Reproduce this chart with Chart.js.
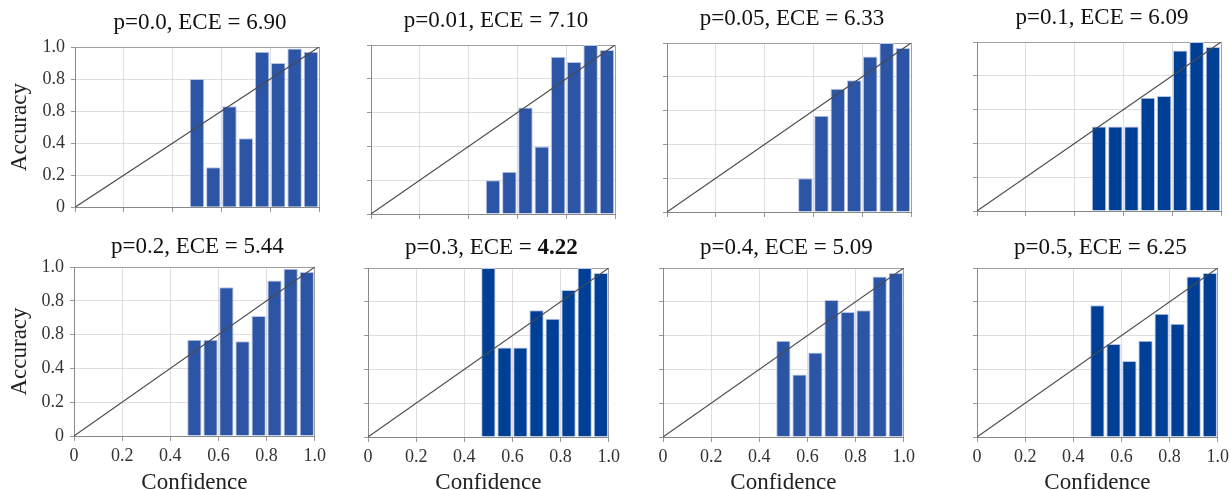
<!DOCTYPE html>
<html>
<head>
<meta charset="utf-8">
<script src="https://cdn.jsdelivr.net/npm/chart.js@4.4.0/dist/chart.umd.min.js"></script>
<style>
  html, body { margin: 0; padding: 0; background: #fff; }
  body { width: 1231px; height: 490px; overflow: hidden; position: relative; }
  .panel { position: absolute; }
</style>
</head>
<body>
<div id="wrap"></div>
<script>
// bin centres (15 equal bins, only the upper 8 are populated)
const BIN_CENTERS = [0.5, 0.567, 0.633, 0.7, 0.767, 0.833, 0.9, 0.967];

const P_VALUES = ['0.0', '0.01', '0.05', '0.1', '0.2', '0.3', '0.4', '0.5'];
const ECE_VALUES = ['6.90', '7.10', '6.33', '6.09', '5.44', '4.22', '5.09', '6.25'];
const BEST_PANEL = 5;

const ACC_P000 = [0.80, 0.25, 0.63, 0.43, 0.97, 0.90, 0.99, 0.97];
const ACC_P001 = [0.20, 0.25, 0.63, 0.40, 0.93, 0.90, 1.00, 0.97];
const ACC_P005 = [null, 0.20, 0.57, 0.73, 0.78, 0.92, 1.00, 0.97];
const ACC_P010 = [0.50, 0.50, 0.50, 0.67, 0.68, 0.95, 1.00, 0.97];
const ACC_P020 = [0.57, 0.57, 0.88, 0.56, 0.71, 0.92, 0.99, 0.97];
const ACC_P030 = [1.00, 0.53, 0.53, 0.75, 0.70, 0.87, 1.00, 0.97];
const ACC_P040 = [0.57, 0.37, 0.50, 0.81, 0.74, 0.75, 0.95, 0.97];
const ACC_P050 = [0.78, 0.55, 0.45, 0.57, 0.73, 0.67, 0.95, 0.97];
const ACCURACY = [ACC_P000, ACC_P001, ACC_P005, ACC_P010, ACC_P020, ACC_P030, ACC_P040, ACC_P050];

// the source figure labels the 0.6 tick as "0.8"
const Y_TICK_LABELS = ['0', '0.2', '0.4', '0.8', '0.8', '1.0'];
const X_TICK_LABELS = ['0', '0.2', '0.4', '0.6', '0.8', '1.0'];

const LIGHT_BLUE = '#2d55a5';
const DARK_BLUE = '#003f96';
const BAR_COLORS = [LIGHT_BLUE, LIGHT_BLUE, LIGHT_BLUE, DARK_BLUE, LIGHT_BLUE, DARK_BLUE, LIGHT_BLUE, DARK_BLUE];

const PLOT_BOXES = [[75, 47], [371, 45], [667, 43], [977, 42], [74, 267], [368, 268], [663, 268], [977, 268]];
const PLOT_W = 244;
const PLOT_H = 169;
const TOP_SPACE = 40;
const RIGHT_SPACE = 12;

const SERIF = "'Liberation Serif', 'Times New Roman', serif";

const panelTitle = {
    id: 'panelTitle',
    afterDraw(chart, args, opts) {
        const { ctx, chartArea } = chart;
        ctx.save();
        ctx.fillStyle = '#111';
        ctx.textBaseline = 'alphabetic';
        ctx.textAlign = 'left';
        let total = 0;
        opts.parts.forEach(p => {
            ctx.font = (p.bold ? 'bold ' : '') + '23px ' + SERIF;
            p.w = ctx.measureText(p.text).width;
            total += p.w;
        });
        let x = (chartArea.left + chartArea.right) / 2 - total / 2 + 3;
        const y = chartArea.top - opts.lift;
        opts.parts.forEach(p => {
            ctx.font = (p.bold ? 'bold ' : '') + '23px ' + SERIF;
            ctx.fillText(p.text, x, y);
            x += p.w;
        });
        ctx.restore();
    }
};

function gridColor(ctx) {
    if (ctx.tick && Math.abs(ctx.tick.value - 1) < 1e-6) return '#a0a0a0';
    return 'rgba(205, 205, 205, 0.65)';
}

function makePanel(i) {
    const col = i % 4;
    const row = Math.floor(i / 4);
    const [px, py] = PLOT_BOXES[i];
    const leftSpace = col === 0 ? px : 10;
    const bottomEdge = row === 0 ? py + PLOT_H + 8 : 497;
    const bottomSpace = bottomEdge - (py + PLOT_H);

    const div = document.createElement('div');
    div.className = 'panel';
    div.style.left = (px - leftSpace) + 'px';
    div.style.top = (py - TOP_SPACE) + 'px';
    div.style.width = (leftSpace + PLOT_W + RIGHT_SPACE) + 'px';
    div.style.height = (TOP_SPACE + PLOT_H + bottomSpace) + 'px';
    const canvas = document.createElement('canvas');
    div.appendChild(canvas);
    document.getElementById('wrap').appendChild(div);

    const parts = i === BEST_PANEL
        ? [{ text: 'p=' + P_VALUES[i] + ', ECE = ', bold: false }, { text: ECE_VALUES[i], bold: true }]
        : [{ text: 'p=' + P_VALUES[i] + ', ECE = ' + ECE_VALUES[i], bold: false }];

    const barData = BIN_CENTERS.map((c, k) => ({ x: c, y: ACCURACY[i][k] }));

    new Chart(canvas, {
        type: 'bar',
        data: {
            datasets: [
                {
                    type: 'line',
                    data: [{ x: 0, y: 0 }, { x: 1, y: 1 }],
                    borderColor: '#4a4a4a',
                    borderWidth: 1.1,
                    pointRadius: 0,
                    order: 0
                },
                {
                    type: 'bar',
                    data: barData,
                    backgroundColor: BAR_COLORS[i],
                    borderColor: 'rgba(185, 198, 235, 1)',
                    borderWidth: 1,
                    barPercentage: 0.9,
                    categoryPercentage: 1,
                    order: 1
                }
            ]
        },
        options: {
            responsive: true,
            maintainAspectRatio: false,
            animation: false,
            layout: { padding: { top: TOP_SPACE, right: RIGHT_SPACE, left: 0, bottom: 0 } },
            plugins: {
                legend: { display: false },
                tooltip: { enabled: false },
                panelTitle: { parts: parts, lift: row === 0 ? 18 : 14 }
            },
            scales: {
                x: {
                    type: 'linear',
                    min: 0,
                    max: 1,
                    offset: false,
                    z: 1,
                    afterFit: (scale) => { scale.height = bottomSpace; },
                    grid: { offset: false, color: gridColor, tickLength: 5, tickColor: '#999' },
                    border: { color: '#888' },
                    ticks: {
                        display: row === 1,
                        stepSize: 0.2,
                        padding: 4,
                        color: '#333',
                        font: { family: SERIF, size: 18 },
                        maxRotation: 0,
                        callback: (v, idx) => X_TICK_LABELS[idx]
                    },
                    title: {
                        display: row === 1,
                        text: 'Confidence',
                        color: '#222',
                        padding: 0,
                        font: { family: SERIF, size: 23, lineHeight: 1.2 }
                    }
                },
                y: {
                    min: 0,
                    max: 1,
                    z: 1,
                    afterFit: (scale) => { scale.width = leftSpace; },
                    grid: { color: gridColor, tickLength: 4, tickColor: '#999' },
                    border: { color: '#888' },
                    ticks: {
                        display: col === 0,
                        stepSize: 0.2,
                        padding: 6,
                        color: '#333',
                        font: { family: SERIF, size: 18 },
                        callback: (v, idx) => Y_TICK_LABELS[idx]
                    },
                    title: {
                        display: col === 0,
                        text: 'Accuracy',
                        color: '#222',
                        padding: { top: 6, bottom: 0 },
                        font: { family: SERIF, size: 23, lineHeight: 1.2 }
                    }
                }
            }
        },
        plugins: [panelTitle]
    });
}

for (let i = 0; i < 8; i++) makePanel(i);
</script>
</body>
</html>
